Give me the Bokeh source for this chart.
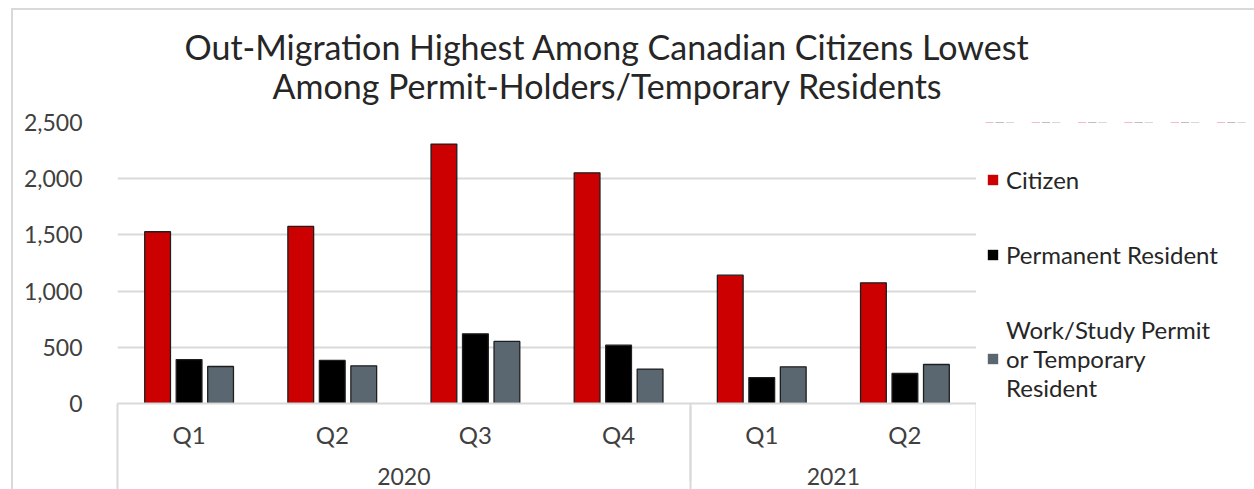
from bokeh.plotting import figure
from bokeh.layouts import column, row
from bokeh.models import (FactorRange, Legend, LegendItem, Title, NumeralTickFormatter,
                          ColumnDataSource, FixedTicker, LinearAxis, Range1d)
from bokeh.transform import dodge
from bokeh.embed import file_html
from bokeh.resources import INLINE

# ---- data ----
years = ["2020", "2020", "2020", "2020", "2021", "2021"]
quarters = ["Q1", "Q2", "Q3", "Q4", "Q1", "Q2"]
citizen = [1528, 1575, 2308, 2052, 1142, 1074]
permanent = [391, 383, 620, 519, 231, 267]
work_study = [329, 335, 552, 306, 326, 347]
series_labels = ["Citizen", "Permanent Resident", "Work/Study Permit\nor Temporary\nResident"]
y_ticks = [0, 500, 1000, 1500, 2000, 2500]
title_line1 = "Out-Migration Highest Among Canadian Citizens Lowest"
title_line2 = "Among Permit-Holders/Temporary Residents"

FONT = "Lato"
GRID = "#D9D9D9"
colors = ["#CC0000", "#000000", "#5B6770"]
cols = ["citizen", "permanent", "work"]
offsets = [-0.22, 0.0, 0.22]

factors = list(zip(years, quarters))
src = ColumnDataSource(dict(x=factors, citizen=citizen, permanent=permanent, work=work_study))
xr = FactorRange(*factors, factor_padding=0, group_padding=0, range_padding=0)

# ---------------- title strip ----------------
pt = figure(width=1254, height=106, x_axis_location=None, y_axis_location=None,
            output_backend="svg", toolbar_location=None,
            min_border_left=0, min_border_right=0, min_border_bottom=0, min_border_top=103)
pt.outline_line_color = None
pt.border_fill_color = None
pt.background_fill_color = None
pt.grid.visible = False
pt.add_layout(Title(text=title_line2, align="left", offset=272, text_font=FONT,
                    text_font_size="34px", text_font_style="normal", text_color="#262626",
                    standoff=-4), "above")
pt.add_layout(Title(text=title_line1, align="left", offset=184, text_font=FONT,
                    text_font_size="34px", text_font_style="normal", text_color="#262626",
                    standoff=-5), "above")

# ---------------- main chart ----------------
p = figure(x_range=xr, y_range=(0, 2500), width=976, height=383,
           output_backend="svg", toolbar_location=None,
           min_border_left=117, min_border_top=16, min_border_right=0, min_border_bottom=86)

renderers = []
for c, col, off in zip(colors, cols, offsets):
    r = p.vbar(x=dodge("x", off, range=p.x_range), top=col, width=0.18, source=src,
               fill_color=c, line_color="#1E1E1E", line_width=1.3)
    renderers.append(r)

p.outline_line_color = None
p.background_fill_color = "white"
p.border_fill_color = None

p.yaxis.ticker = FixedTicker(ticks=y_ticks)
p.yaxis.formatter = NumeralTickFormatter(format="0,0")
p.yaxis.axis_line_color = None
p.yaxis.major_tick_line_color = None
p.yaxis.minor_tick_line_color = None
p.yaxis.major_label_standoff = 29
p.yaxis.major_label_text_font = FONT
p.yaxis.major_label_text_font_size = "23px"
p.yaxis.major_label_text_color = "#404040"

p.ygrid.grid_line_color = GRID
p.ygrid.grid_line_width = 2
p.xgrid.grid_line_color = None

xa = p.xaxis[0]
xa.axis_line_color = GRID
xa.axis_line_width = 2
xa.major_tick_line_color = None
xa.major_tick_out = 0
xa.minor_tick_line_color = None
xa.major_label_standoff = 16
xa.major_label_text_font = FONT
xa.major_label_text_font_size = "24px"
xa.major_label_text_color = "#404040"
xa.group_text_font = FONT
xa.group_text_font_size = "23px"
xa.group_text_font_style = "normal"
xa.group_text_color = "#404040"
xa.separator_line_color = GRID
xa.separator_line_width = 2

# helper axis: vertical box edges of the category axis (outer edges and year divider)
edge_axis = LinearAxis(ticker=FixedTicker(ticks=[0, 4, len(factors)]),
                       axis_line_color=None, major_tick_line_color=GRID, major_tick_line_width=2,
                       major_tick_in=84, major_tick_out=2, minor_tick_line_color=None,
                       major_label_text_font_size="1px", major_label_text_color=None,
                       major_label_standoff=0)
p.add_layout(edge_axis, "below")

# ---------------- legend panel ----------------
pl = figure(x_range=xr, y_range=Range1d(-2, -1), width=278, height=383,
            x_axis_location=None, y_axis_location=None,
            output_backend="svg", toolbar_location=None, min_border=0)
pl.outline_line_color = None
pl.border_fill_color = None
pl.background_fill_color = None
pl.grid.visible = False
leg_renderers = []
for c, col, off in zip(colors, cols, offsets):
    r = pl.vbar(x=dodge("x", off, range=pl.x_range), top=col, width=0.18, source=src,
                fill_color=c, line_color=None)
    leg_renderers.append(r)

legend = Legend(items=[LegendItem(label=lab, renderers=[r]) for lab, r in zip(series_labels, leg_renderers)],
                location=(10, 1), orientation="vertical", padding=0, margin=0, spacing=46,
                glyph_width=13, glyph_height=13, label_standoff=7, label_height=24,
                label_text_font=FONT, label_text_font_size="24px", label_text_color="#262626",
                background_fill_alpha=0, border_line_color=None)
pl.add_layout(legend)

layout = column(pt, row(p, pl, spacing=0), spacing=0)
layout.styles = {
    "background-color": "white",
    "background-image": f"linear-gradient({GRID},{GRID}), linear-gradient({GRID},{GRID})",
    "background-position": "11px 8px, 11px 8px",
    "background-size": "2px 100%, 100% 2px",
    "background-repeat": "no-repeat",
}

open("out.html", "w").write(file_html(layout, INLINE))
